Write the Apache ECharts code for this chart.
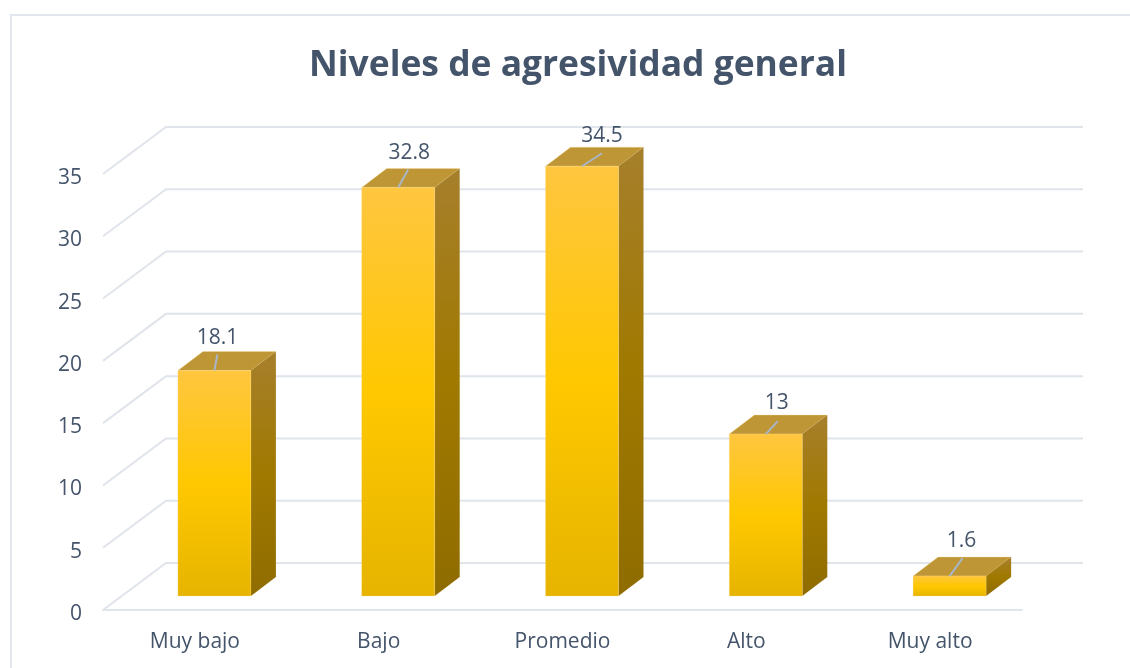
<!DOCTYPE html>
<html>
<head>
<meta charset="utf-8">
<style>html,body{margin:0;padding:0;background:#fff}#c{width:1130px;height:668px}</style>
<script src="https://cdn.jsdelivr.net/npm/echarts@6/dist/echarts.min.js"></script>
</head>
<body>
<div id="c"></div>
<script>
const categories = ['Muy bajo', 'Bajo', 'Promedio', 'Alto', 'Muy alto'];
const values = [18.1, 32.8, 34.5, 13, 1.6];
const valueLabels = ['18.1', '32.8', '34.5', '13', '1.6'];
const ticks = [0, 5, 10, 15, 20, 25, 30, 35];

// layout of the pseudo-3D scene (pixels)
const wallDx = 63, wallDy = -47, wallRightTrim = 2;
const barPlaneDx = 19.5, barPlaneDy = -14;
const barW = 73, barDx = 25, barDy = -19;
const labelShift = [[3, -33], [11, -34], [20, -30], [11, -31], [12, -35]];
const leaderEnd = [[3, -16], [10, -18], [20, -13], [12, -13], [13, -18]];

const INK = '#44546A', GRID = '#E0E4EB';
const FONT = '"Open Sans", sans-serif';

function vGrad(stops) {
  return new echarts.graphic.LinearGradient(0, 0, 0, 1, stops.map(c => ({offset: c[0], color: c[1]})));
}

const chart = echarts.init(document.getElementById('c'), null, {renderer: 'canvas'});
chart.setOption({
  animation: false,
  backgroundColor: '#fff',
  title: {
    text: 'Niveles de agresividad general',
    left: 573, top: 43, textAlign: 'center',
    textStyle: {fontFamily: FONT, fontWeight: 'bold', fontSize: 35.4, color: INK}
  },
  graphic: [{
    type: 'polyline', silent: true,
    shape: {points: [[1130, 15], [11, 15], [11, 668]]},
    style: {stroke: '#E1E6EF', lineWidth: 2, fill: null}
  }],
  grid: {left: 103, right: 108, top: 174, bottom: 58},
  xAxis: {
    type: 'category', data: categories,
    axisLine: {show: true, lineStyle: {color: GRID, width: 2}},
    axisTick: {show: false},
    axisLabel: {fontFamily: FONT, fontSize: 21, color: INK, margin: 22}
  },
  yAxis: {
    type: 'value', min: 0, max: 35, interval: 5,
    axisLine: {show: false}, axisTick: {show: false}, splitLine: {show: false},
    axisLabel: {fontFamily: FONT, fontSize: 21, color: INK, margin: 21, verticalAlign: 'top', lineHeight: 8}
  },
  series: [
    {
      type: 'custom', silent: true, z: 1,
      data: ticks,
      encode: {y: 0},
      renderItem(params, api) {
        const p = api.coord([0, api.value(0)]);
        const s = api.size([1, 0]);
        const x0 = p[0] - s[0] / 2;
        const right = x0 + s[0] * categories.length + wallDx - wallRightTrim;
        return {
          type: 'polyline', silent: true,
          shape: {points: [[x0, p[1]], [x0 + wallDx, p[1] + wallDy], [right, p[1] + wallDy]]},
          style: {stroke: GRID, lineWidth: 2, fill: null}
        };
      }
    },
    {
      type: 'custom', silent: true, z: 2,
      data: values.map((v, i) => [i, v]),
      encode: {x: 0, y: 1},
      renderItem(params, api) {
        const i = api.value(0);
        const top = api.coord([i, api.value(1)]);
        const base = api.coord([i, 0]);
        const cx = top[0] + barPlaneDx;
        const l = cx - barW / 2, r = cx + barW / 2;
        const yt = top[1] + barPlaneDy, yb = base[1] + barPlaneDy;
        const front = vGrad([[0, '#FFC640'], [0.5, '#FFC800'], [1, '#E6B400']]);
        const side = vGrad([[0, '#A67F2C'], [0.5, '#A07900'], [1, '#8F6C00']]);
        const e = leaderEnd[i], ls = labelShift[i];
        return {
          type: 'group',
          children: [
            {type: 'polygon', shape: {points: [[l, yt], [r, yt], [r + barDx, yt + barDy], [l + barDx, yt + barDy]]},
             style: {fill: '#BF9636', stroke: 'rgba(255,225,150,0.3)', lineWidth: 1}},
            {type: 'polygon', shape: {points: [[r, yt], [r + barDx, yt + barDy], [r + barDx, yb + barDy], [r, yb]]},
             style: {fill: side}},
            {type: 'rect', shape: {x: l, y: yt, width: barW, height: yb - yt},
             style: {fill: front, stroke: 'rgba(255,225,150,0.25)', lineWidth: 1}},
            {type: 'line', shape: {x1: cx, y1: yt, x2: cx + e[0], y2: yt + e[1]},
             style: {stroke: '#A9B6C6', lineWidth: 2}},
            {type: 'text', style: {
              x: cx + ls[0], y: yt + ls[1], text: valueLabels[i],
              fill: INK, font: '21px ' + FONT, align: 'center', verticalAlign: 'middle'
            }}
          ]
        };
      }
    }
  ]
});
</script>
</body>
</html>
